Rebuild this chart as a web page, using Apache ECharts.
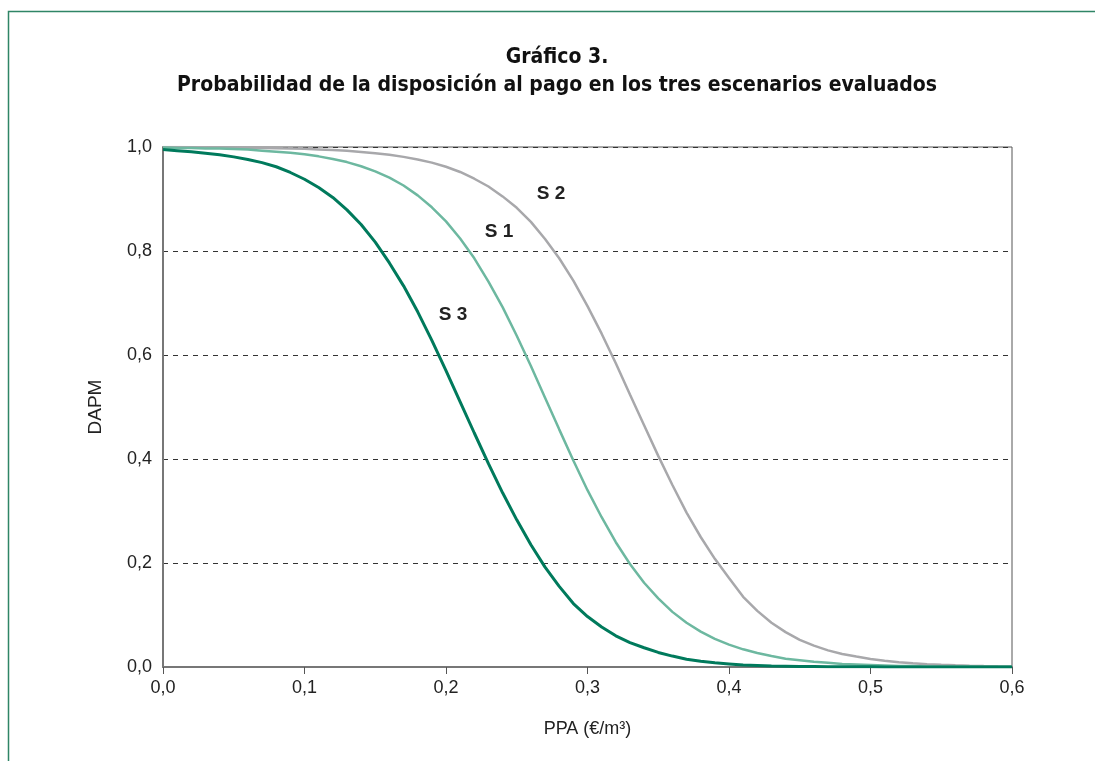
<!DOCTYPE html>
<html>
<head>
<meta charset="utf-8">
<script src="https://cdn.jsdelivr.net/npm/echarts@6/dist/echarts.min.js"></script>
<style>
  html, body { margin: 0; padding: 0; background: #fff; }
  #chart { width: 1095px; height: 761px; }
</style>
</head>
<body>
<div id="chart"></div>
<script>
// PPA (€/m3), step 0,01
const ppa = [
  0.00, 0.01, 0.02, 0.03, 0.04, 0.05, 0.06, 0.07, 0.08, 0.09,
  0.10, 0.11, 0.12, 0.13, 0.14, 0.15, 0.16, 0.17, 0.18, 0.19,
  0.20, 0.21, 0.22, 0.23, 0.24, 0.25, 0.26, 0.27, 0.28, 0.29,
  0.30, 0.31, 0.32, 0.33, 0.34, 0.35, 0.36, 0.37, 0.38, 0.39,
  0.40, 0.41, 0.42, 0.43, 0.44, 0.45, 0.46, 0.47, 0.48, 0.49,
  0.50, 0.51, 0.52, 0.53, 0.54, 0.55, 0.56, 0.57, 0.58, 0.59,
  0.60
];

const s1 = [
  0.999, 0.998, 0.998, 0.997, 0.997, 0.996, 0.995, 0.993, 0.991, 0.989,
  0.986, 0.982, 0.977, 0.971, 0.963, 0.953, 0.941, 0.926, 0.907, 0.884,
  0.857, 0.824, 0.786, 0.741, 0.692, 0.637, 0.579, 0.518, 0.457, 0.397,
  0.340, 0.288, 0.240, 0.198, 0.162, 0.132, 0.106, 0.085, 0.068, 0.054,
  0.043, 0.034, 0.027, 0.021, 0.016, 0.013, 0.010, 0.008, 0.006, 0.005,
  0.004, 0.003, 0.002, 0.002, 0.001, 0.001, 0.001, 0.001, 0.0005, 0.0005,
  0.0003
];

const s2 = [
  1.000, 1.000, 0.9995, 0.9993, 0.9991, 0.9989, 0.9986, 0.9982, 0.9978, 0.9972,
  0.9964, 0.9954, 0.9942, 0.9926, 0.9906, 0.988, 0.985, 0.981, 0.976, 0.970,
  0.962, 0.952, 0.939, 0.924, 0.905, 0.883, 0.856, 0.823, 0.786, 0.743,
  0.694, 0.641, 0.584, 0.524, 0.465, 0.406, 0.350, 0.297, 0.250, 0.208,
  0.171, 0.135, 0.108, 0.085, 0.067, 0.052, 0.041, 0.032, 0.025, 0.020,
  0.0155, 0.012, 0.009, 0.007, 0.0055, 0.0043, 0.0033, 0.0026, 0.002, 0.0015,
  0.0012
];

const s3 = [
  0.995, 0.993, 0.991, 0.988, 0.985, 0.981, 0.976, 0.970, 0.962, 0.951,
  0.938, 0.922, 0.903, 0.879, 0.851, 0.817, 0.777, 0.733, 0.683, 0.628,
  0.570, 0.510, 0.450, 0.391, 0.335, 0.283, 0.235, 0.192, 0.155, 0.122,
  0.097, 0.077, 0.060, 0.047, 0.037, 0.028, 0.021, 0.015, 0.011, 0.008,
  0.006, 0.004, 0.003, 0.002, 0.0015, 0.001, 0.0008, 0.0006, 0.0005, 0.0004,
  0.0003, 0.0002, 0.0002, 0.0001, 0.0001, 0.0001, 0.0001, 0, 0, 0,
  0
];

const pairs = (ys) => ppa.map((x, i) => [x, ys[i]]);
const comma = (v) => v.toFixed(1).replace('.', ',');

const labelFont = "Arial, 'Liberation Sans', Helvetica, sans-serif";
const titleFont = "'Liberation Sans Narrow', 'DejaVu Sans Condensed', 'Liberation Sans', sans-serif";

var chartDom = document.getElementById('chart');
var myChart = echarts.init(chartDom);

const option = {
  backgroundColor: '#fff',
  animation: false,
  title: [
    {
      text: 'Gráfico 3.',
      left: 557, top: 47, textAlign: 'center', padding: 0,
      textStyle: { fontFamily: titleFont, fontWeight: 'bold', fontSize: 21, color: '#111' }
    },
    {
      text: 'Probabilidad de la disposición al pago en los tres escenarios evaluados',
      left: 557, top: 75, textAlign: 'center', padding: 0,
      textStyle: { fontFamily: titleFont, fontWeight: 'bold', fontSize: 21, color: '#111' }
    },
    {
      text: 'S 2', left: 551, top: 184, textAlign: 'center', padding: 0,
      textStyle: { fontFamily: labelFont, fontWeight: 'bold', fontSize: 19, color: '#222' }
    },
    {
      text: 'S 1', left: 499, top: 222, textAlign: 'center', padding: 0,
      textStyle: { fontFamily: labelFont, fontWeight: 'bold', fontSize: 19, color: '#222' }
    },
    {
      text: 'S 3', left: 453, top: 305, textAlign: 'center', padding: 0,
      textStyle: { fontFamily: labelFont, fontWeight: 'bold', fontSize: 19, color: '#222' }
    }
  ],
  graphic: [
    {
      type: 'rect',
      shape: { x: 8.5, y: 11.5, width: 1200, height: 900 },
      style: { fill: 'none', stroke: '#2f8566', lineWidth: 1.5 },
      silent: true
    }
  ],
  grid: {
    left: 163, right: 83, top: 147, bottom: 94,
    show: true, borderColor: '#555', borderWidth: 1, backgroundColor: 'transparent'
  },
  xAxis: {
    type: 'value',
    min: 0, max: 0.6, interval: 0.1,
    name: 'PPA (€/m³)',
    nameLocation: 'middle',
    nameGap: 53,
    nameTextStyle: { fontFamily: labelFont, fontSize: 18, color: '#222' },
    axisLine: { show: true, lineStyle: { color: '#777', width: 2 } },
    axisTick: { show: true, length: 7, lineStyle: { color: '#555', width: 1 } },
    axisLabel: { formatter: comma, fontFamily: labelFont, fontSize: 18, color: '#222', margin: 12 },
    splitLine: { show: false }
  },
  yAxis: {
    type: 'value',
    min: 0, max: 1, interval: 0.2,
    name: 'DAPM',
    nameLocation: 'middle',
    nameGap: 58,
    nameRotate: 90,
    nameTextStyle: { fontFamily: labelFont, fontSize: 19, color: '#222' },
    axisLine: { show: true, lineStyle: { color: '#777', width: 2 } },
    axisTick: { show: false },
    axisLabel: { formatter: comma, fontFamily: labelFont, fontSize: 18, color: '#222', margin: 11 },
    splitLine: { show: true, lineStyle: { color: '#333', type: [5, 5], width: 1 } }
  },
  series: [
    {
      name: 'S 2', type: 'line', data: pairs(s2),
      showSymbol: false, smooth: false,
      lineStyle: { color: '#a8a8ab', width: 2.5 }
    },
    {
      name: 'S 1', type: 'line', data: pairs(s1),
      showSymbol: false, smooth: false,
      lineStyle: { color: '#6db8a0', width: 2.5 }
    },
    {
      name: 'S 3', type: 'line', data: pairs(s3),
      showSymbol: false, smooth: false,
      lineStyle: { color: '#007a5c', width: 3 }
    }
  ]
};

option && myChart.setOption(option);
</script>
</body>
</html>
